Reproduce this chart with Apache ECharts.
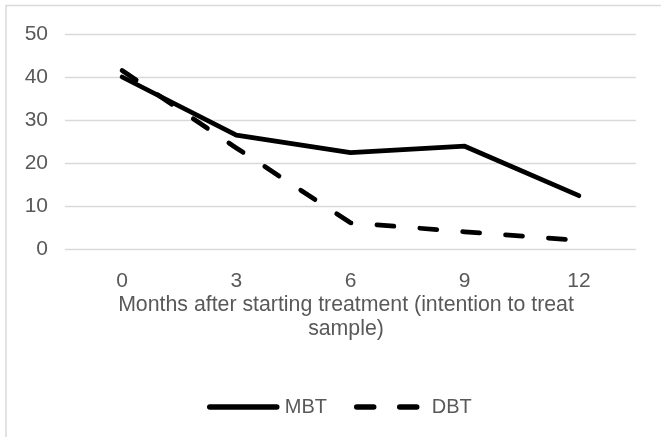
<!DOCTYPE html>
<html>
<head>
<meta charset="utf-8">
<script src="https://cdn.jsdelivr.net/npm/echarts@6/dist/echarts.min.js"></script>
<style>
  html, body { margin: 0; padding: 0; background: #ffffff; }
  #chart { width: 661px; height: 437px; }
</style>
</head>
<body>
<div id="chart"></div>
<script>
// Months after starting treatment
const months = ['0', '3', '6', '9', '12'];
// Outcome values per treatment group
const mbtValues = [40, 26.5, 22.4, 23.9, 12.4];
const dbtValues = [41.5, 23.5, 6.1, 4.0, 2.0];
// Y axis ticks
const yMin = 0;
const yMax = 50;
const yStep = 10;

const textColor = '#595959';
const gridColor = '#d9d9d9';
const font = 'Liberation Sans, Arial, sans-serif';

const chart = echarts.init(document.getElementById('chart'), null, { renderer: 'canvas' });

chart.setOption({
  animation: false,
  backgroundColor: '#ffffff',
  graphic: [
    {
      type: 'polyline',
      shape: { points: [[6, 437], [6, 5.5], [661, 5.5]] },
      style: { stroke: gridColor, lineWidth: 1.5, fill: null },
      silent: true
    }
  ],
  grid: { left: 65, right: 25, top: 34, bottom: 188, containLabel: false },
  xAxis: {
    type: 'category',
    data: months,
    boundaryGap: true,
    axisLine: { show: false },
    axisTick: { show: false },
    axisLabel: { color: textColor, fontSize: 21, fontFamily: font, margin: 22 },
    name: 'Months after starting treatment (intention to treat\nsample)',
    nameLocation: 'middle',
    nameGap: 38,
    nameTextStyle: { color: textColor, fontSize: 21.3, fontFamily: font, lineHeight: 24, padding: [0, 9, 0, 0] }
  },
  yAxis: {
    type: 'value',
    min: yMin,
    max: yMax,
    interval: yStep,
    axisLine: { show: false },
    axisTick: { show: false },
    axisLabel: { color: textColor, fontSize: 21, fontFamily: font, margin: 17 },
    splitLine: { lineStyle: { color: gridColor, width: 1.3 } }
  },
  legend: {
    left: 202,
    top: 392,
    itemWidth: 67,
    itemHeight: 14,
    itemGap: 27,
    itemStyle: { color: 'transparent', borderColor: 'transparent', borderWidth: 0 },
    lineStyle: { width: 5.5, cap: 'round' },
    textStyle: { color: textColor, fontSize: 20, fontFamily: font, padding: [0, 0, 0, 3] },
    data: ['MBT', 'DBT']
  },
  series: [
    {
      name: 'MBT',
      type: 'line',
      data: mbtValues,
      symbol: 'none',
      color: '#000000',
      lineStyle: { color: '#000000', width: 4.75, cap: 'round', join: 'round' }
    },
    {
      name: 'DBT',
      type: 'line',
      data: dbtValues,
      symbol: 'none',
      color: '#000000',
      lineStyle: { color: '#000000', width: 4.75, type: [17, 26], cap: 'round', join: 'round' }
    }
  ]
});
</script>
</body>
</html>
